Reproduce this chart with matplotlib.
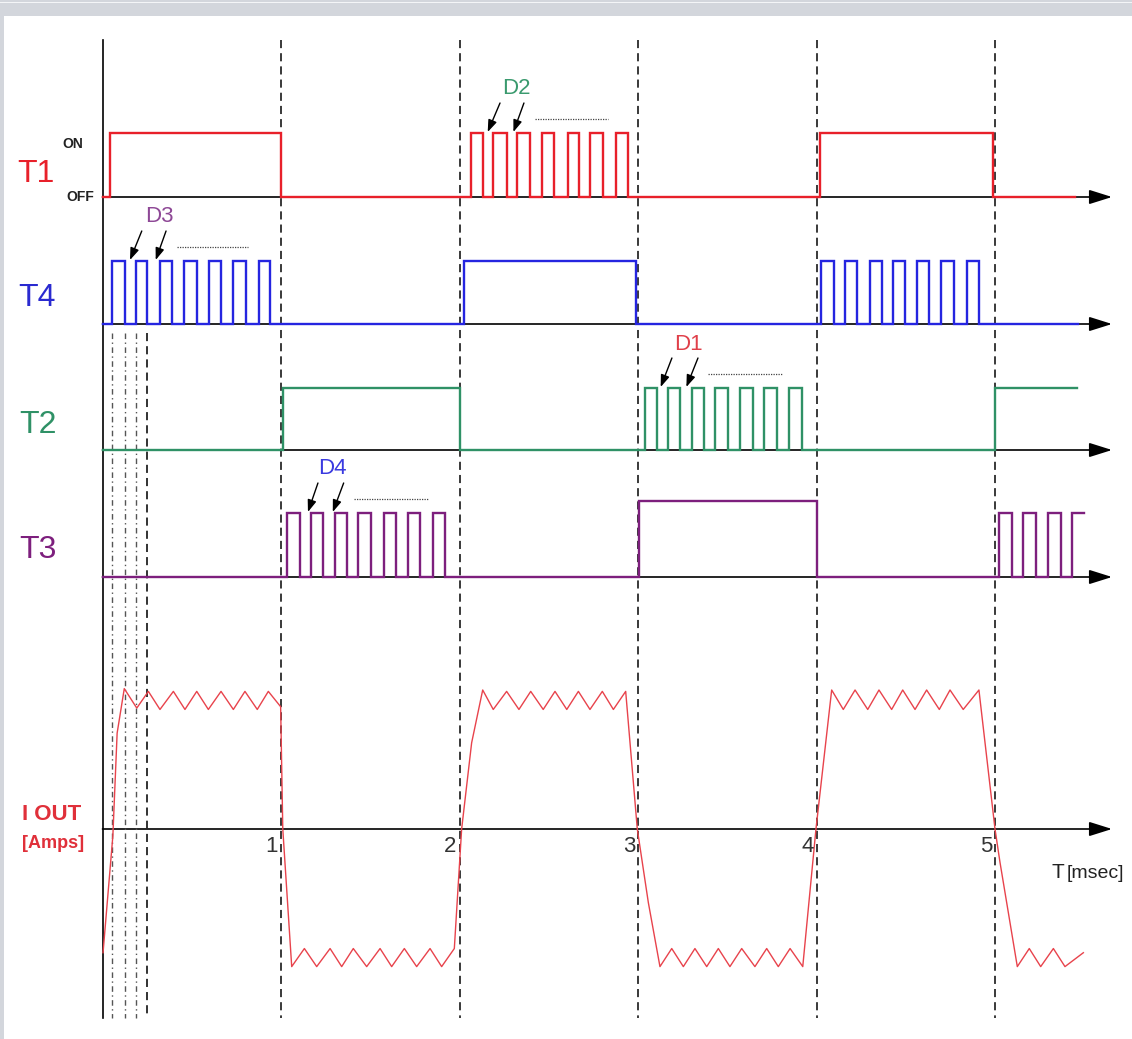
import matplotlib
matplotlib.use("Agg")
import matplotlib.pyplot as plt
from matplotlib.patches import Rectangle

plt.rcParams['font.family'] = ['Liberation Sans', 'DejaVu Sans']

# ---------------- data (time in msec) ----------------
T1_rise = [0.042, 2.063, 2.189, 2.322, 2.461, 2.606, 2.731, 2.875, 4.020]
T1_fall = [1.000, 2.130, 2.264, 2.395, 2.529, 2.669, 2.804, 2.944, 4.990]
T1_level = [1, 1, 1, 1, 1, 1, 1, 1, 1]
T1_end = 5.45

T4_rise = [0.052, 0.188, 0.322, 0.458, 0.598, 0.733, 0.875, 2.027,
           4.028, 4.162, 4.298, 4.428, 4.562, 4.698, 4.842]
T4_fall = [0.126, 0.251, 0.388, 0.528, 0.664, 0.802, 0.938, 2.987,
           4.096, 4.228, 4.366, 4.496, 4.632, 4.768, 4.912]
T4_level = [1, 1, 1, 1, 1, 1, 1, 1, 1, 1, 1, 1, 1, 1, 1]
T4_end = 5.465

T2_rise = [1.010, 3.037, 3.168, 3.302, 3.434, 3.571, 3.708, 3.848, 5.000]
T2_fall = [2.000, 3.107, 3.237, 3.372, 3.504, 3.643, 3.777, 3.916, 5.460]
T2_level = [1, 1, 1, 1, 1, 1, 1, 1, 1]
T2_end = 5.46

T3_rise = [1.036, 1.167, 1.301, 1.433, 1.577, 1.713, 1.851, 3.005,
           5.024, 5.159, 5.299, 5.433]
T3_fall = [1.106, 1.236, 1.370, 1.506, 1.646, 1.781, 1.921, 4.000,
           5.093, 5.229, 5.368, 5.500]
T3_level = [0.84, 0.84, 0.84, 0.84, 0.84, 0.84, 0.84, 1.0,
            0.84, 0.84, 0.84, 0.84]
T3_end = 5.50

IOUT_t = [0.003, 0.058, 0.082, 0.122, 0.192, 0.257, 0.322, 0.397, 0.462, 0.528,
          0.593, 0.664, 0.733, 0.798, 0.867, 0.929, 0.998, 1.010,
          1.060, 1.131, 1.200, 1.275, 1.340, 1.405, 1.480, 1.555, 1.620, 1.691,
          1.760, 1.835, 1.900, 1.971, 2.012, 2.068,
          2.130, 2.189, 2.264, 2.333, 2.399, 2.469, 2.535, 2.601, 2.666, 2.731,
          2.800, 2.862, 2.931, 2.996, 3.058,
          3.123, 3.189, 3.254, 3.319, 3.385, 3.450, 3.515, 3.581, 3.655, 3.721,
          3.786, 3.852, 3.923, 3.997,
          4.085, 4.150, 4.216, 4.287, 4.350, 4.421, 4.483, 4.552, 4.617, 4.688,
          4.748, 4.822, 4.910, 5.000, 5.028,
          5.125, 5.192, 5.256, 5.327, 5.392, 5.495]
IOUT_a = [-0.89, -0.05, 0.69, 1.01, 0.87, 0.99, 0.86, 0.99, 0.86, 0.99,
          0.86, 0.99, 0.86, 0.99, 0.86, 0.99, 0.88, 0.0,
          -0.99, -0.86, -0.99, -0.86, -0.99, -0.86, -0.99, -0.86, -0.99, -0.86,
          -0.99, -0.86, -0.99, -0.86, 0.0, 0.62,
          1.00, 0.86, 0.99, 0.86, 0.99, 0.86, 0.99, 0.86, 0.99, 0.86,
          0.99, 0.86, 0.99, 0.0, -0.53,
          -0.99, -0.86, -0.99, -0.86, -0.99, -0.86, -0.99, -0.86, -0.99, -0.86,
          -0.99, -0.86, -0.99, 0.0,
          1.00, 0.86, 1.00, 0.86, 1.00, 0.86, 1.00, 0.86, 1.00, 0.86,
          1.00, 0.86, 1.00, 0.0, -0.24,
          -0.99, -0.86, -0.99, -0.86, -0.99, -0.89]

tick_values = [1, 2, 3, 4, 5]
tick_labels = ['1', '2', '3', '4', '5']

# ---------------- layout (pixel based) ----------------
W, H = 1132, 1039
X0, U = 102.5, 178.5  # pixel of t=0, pixels per msec


def X(px):
    return (px - X0) / U


fig = plt.figure(figsize=(W / 100, H / 100), dpi=100)
fig.patch.set_facecolor('#d3d6dc')
fig.patches.append(Rectangle((4 / W, 0), 1, (H - 16) / H, transform=fig.transFigure,
                             facecolor='white', edgecolor='none', zorder=-5))
fig.patches.append(Rectangle((0, (H - 3) / H), 1, 1.2 / H, transform=fig.transFigure,
                             facecolor='#f4f5f7', edgecolor='none', zorder=-5))

ax = fig.add_axes([0, 0, 1, 1])
ax.set_xlim(X(0), X(W))
ax.set_ylim(H, 0)
ax.axis('off')

RED = '#e8202a'
BLUE = '#2525e0'
GREEN = '#2f9166'
PURPLE = '#7d1f7d'

t_tip = X(1112)


def step_path(rise, fall, level, t_end):
    xs, ys = [0.0], [0.0]
    for r, f, lv in zip(rise, fall, level):
        xs += [r, r]
        ys += [0.0, lv]
        if f >= t_end:
            xs.append(t_end)
            ys.append(lv)
            return xs, ys
        xs += [f, f]
        ys += [lv, 0.0]
    xs.append(t_end)
    ys.append(0.0)
    return xs, ys


channels = [
    (T1_rise, T1_fall, T1_level, T1_end, 197, 64, RED),
    (T4_rise, T4_fall, T4_level, T4_end, 324, 63, BLUE),
    (T2_rise, T2_fall, T2_level, T2_end, 450, 62, GREEN),
    (T3_rise, T3_fall, T3_level, T3_end, 577, 76, PURPLE),
]

# axes with arrows
for base in [197, 324, 450, 577, 829]:
    ax.annotate('', xy=(t_tip, base), xytext=(0, base),
                arrowprops=dict(arrowstyle='-|>,head_length=0.7,head_width=0.22',
                                mutation_scale=20, color='black', lw=1.2,
                                shrinkA=0, shrinkB=0), zorder=2)
ax.plot([0, 0], [40, 1018], color='black', lw=1.2, zorder=2)

# dashed vertical lines
for tv in tick_values:
    ax.plot([tv, tv], [40, 1018], color='#2a2a2a', lw=1.3,
            linestyle=(0, (4.5, 2.8)), zorder=2.5)

# fine lines under the first T4 pulses
for i, tv in enumerate([T4_rise[0], T4_fall[0], T4_rise[1], T4_fall[1]]):
    if i < 3:
        ax.plot([tv, tv], [333, 1018], color='#555555', lw=1.0,
                linestyle=(0, (4, 2.5, 1, 2.5)), zorder=2.5)
    else:
        ax.plot([tv, tv], [333, 1018], color='#222222', lw=1.3,
                linestyle=(0, (4.5, 2.8)), zorder=2.5)

# digital signals
for rise, fall, level, t_end, base, amp, col in channels:
    xs, ys = step_path(rise, fall, level, t_end)
    ax.plot(xs, [base - amp * v for v in ys], color=col, lw=1.7,
            solid_joinstyle='miter', zorder=3)

# output current
ax.plot(IOUT_t, [829 - 139 * a for a in IOUT_a], color='#e8434c', lw=1.0, zorder=3)

# tick labels
for tv, lab in zip(tick_values, tick_labels):
    ax.text(tv - 3 / U, 846, lab, ha='right', va='center', fontsize=16,
            color='#333333', zorder=5)
ax.text(X(1051), 873, 'T', ha='left', va='center', fontsize=15, color='#222222')
ax.text(X(1067), 874, '[msec]', ha='left', va='center', fontsize=14, color='#222222')

# channel labels
ax.text(X(36), 174, 'T1', ha='center', va='center', fontsize=23, color=RED)
ax.text(X(37), 298, 'T4', ha='center', va='center', fontsize=23, color='#2a2ad0')
ax.text(X(38), 425, 'T2', ha='center', va='center', fontsize=23, color=GREEN)
ax.text(X(38), 550, 'T3', ha='center', va='center', fontsize=23, color=PURPLE)
ax.text(X(73), 144, 'ON', ha='center', va='center', fontsize=10, fontweight='bold',
        color='#222222')
ax.text(X(80), 197, 'OFF', ha='center', va='center', fontsize=10, fontweight='bold',
        color='#222222')
ax.text(X(52), 815, 'I OUT', ha='center', va='center', fontsize=16, fontweight='bold',
        color='#e0303a')
ax.text(X(53), 844, '[Amps]', ha='center', va='center', fontsize=13, fontweight='bold',
        color='#e0303a')


# dead-time annotations
def dead_time(label, col, high_y, t_text, tails, heads, dots):
    ax.text(t_text, high_y - 44, label, ha='center', va='center', fontsize=16, color=col)
    for ta, he in zip(tails, heads):
        ax.annotate('', xy=(he, high_y - 1), xytext=(ta, high_y - 30),
                    arrowprops=dict(arrowstyle='-|>,head_length=0.6,head_width=0.22',
                                    mutation_scale=12, color='black', lw=1.0,
                                    shrinkA=0, shrinkB=0), zorder=4)
    ax.plot(dots, [high_y - 14, high_y - 14], color='#444444', lw=0.9,
            linestyle=(0, (1, 1)), zorder=4)


dead_time('D3', '#8e4896', 261, 0.317, [0.220, 0.356], [0.154, 0.298], [0.415, 0.817])
dead_time('D2', '#3a9a6e', 133, 2.318, [2.227, 2.361], [2.158, 2.302], [2.423, 2.834])
dead_time('D1', '#e0404a', 388, 3.283, [3.190, 3.336], [3.127, 3.271], [3.392, 3.807])
dead_time('D4', '#3a3ae0', 513, 1.290, [1.207, 1.351], [1.151, 1.290], [1.407, 1.821])

fig.savefig('out.png', dpi=100, facecolor=fig.get_facecolor())
